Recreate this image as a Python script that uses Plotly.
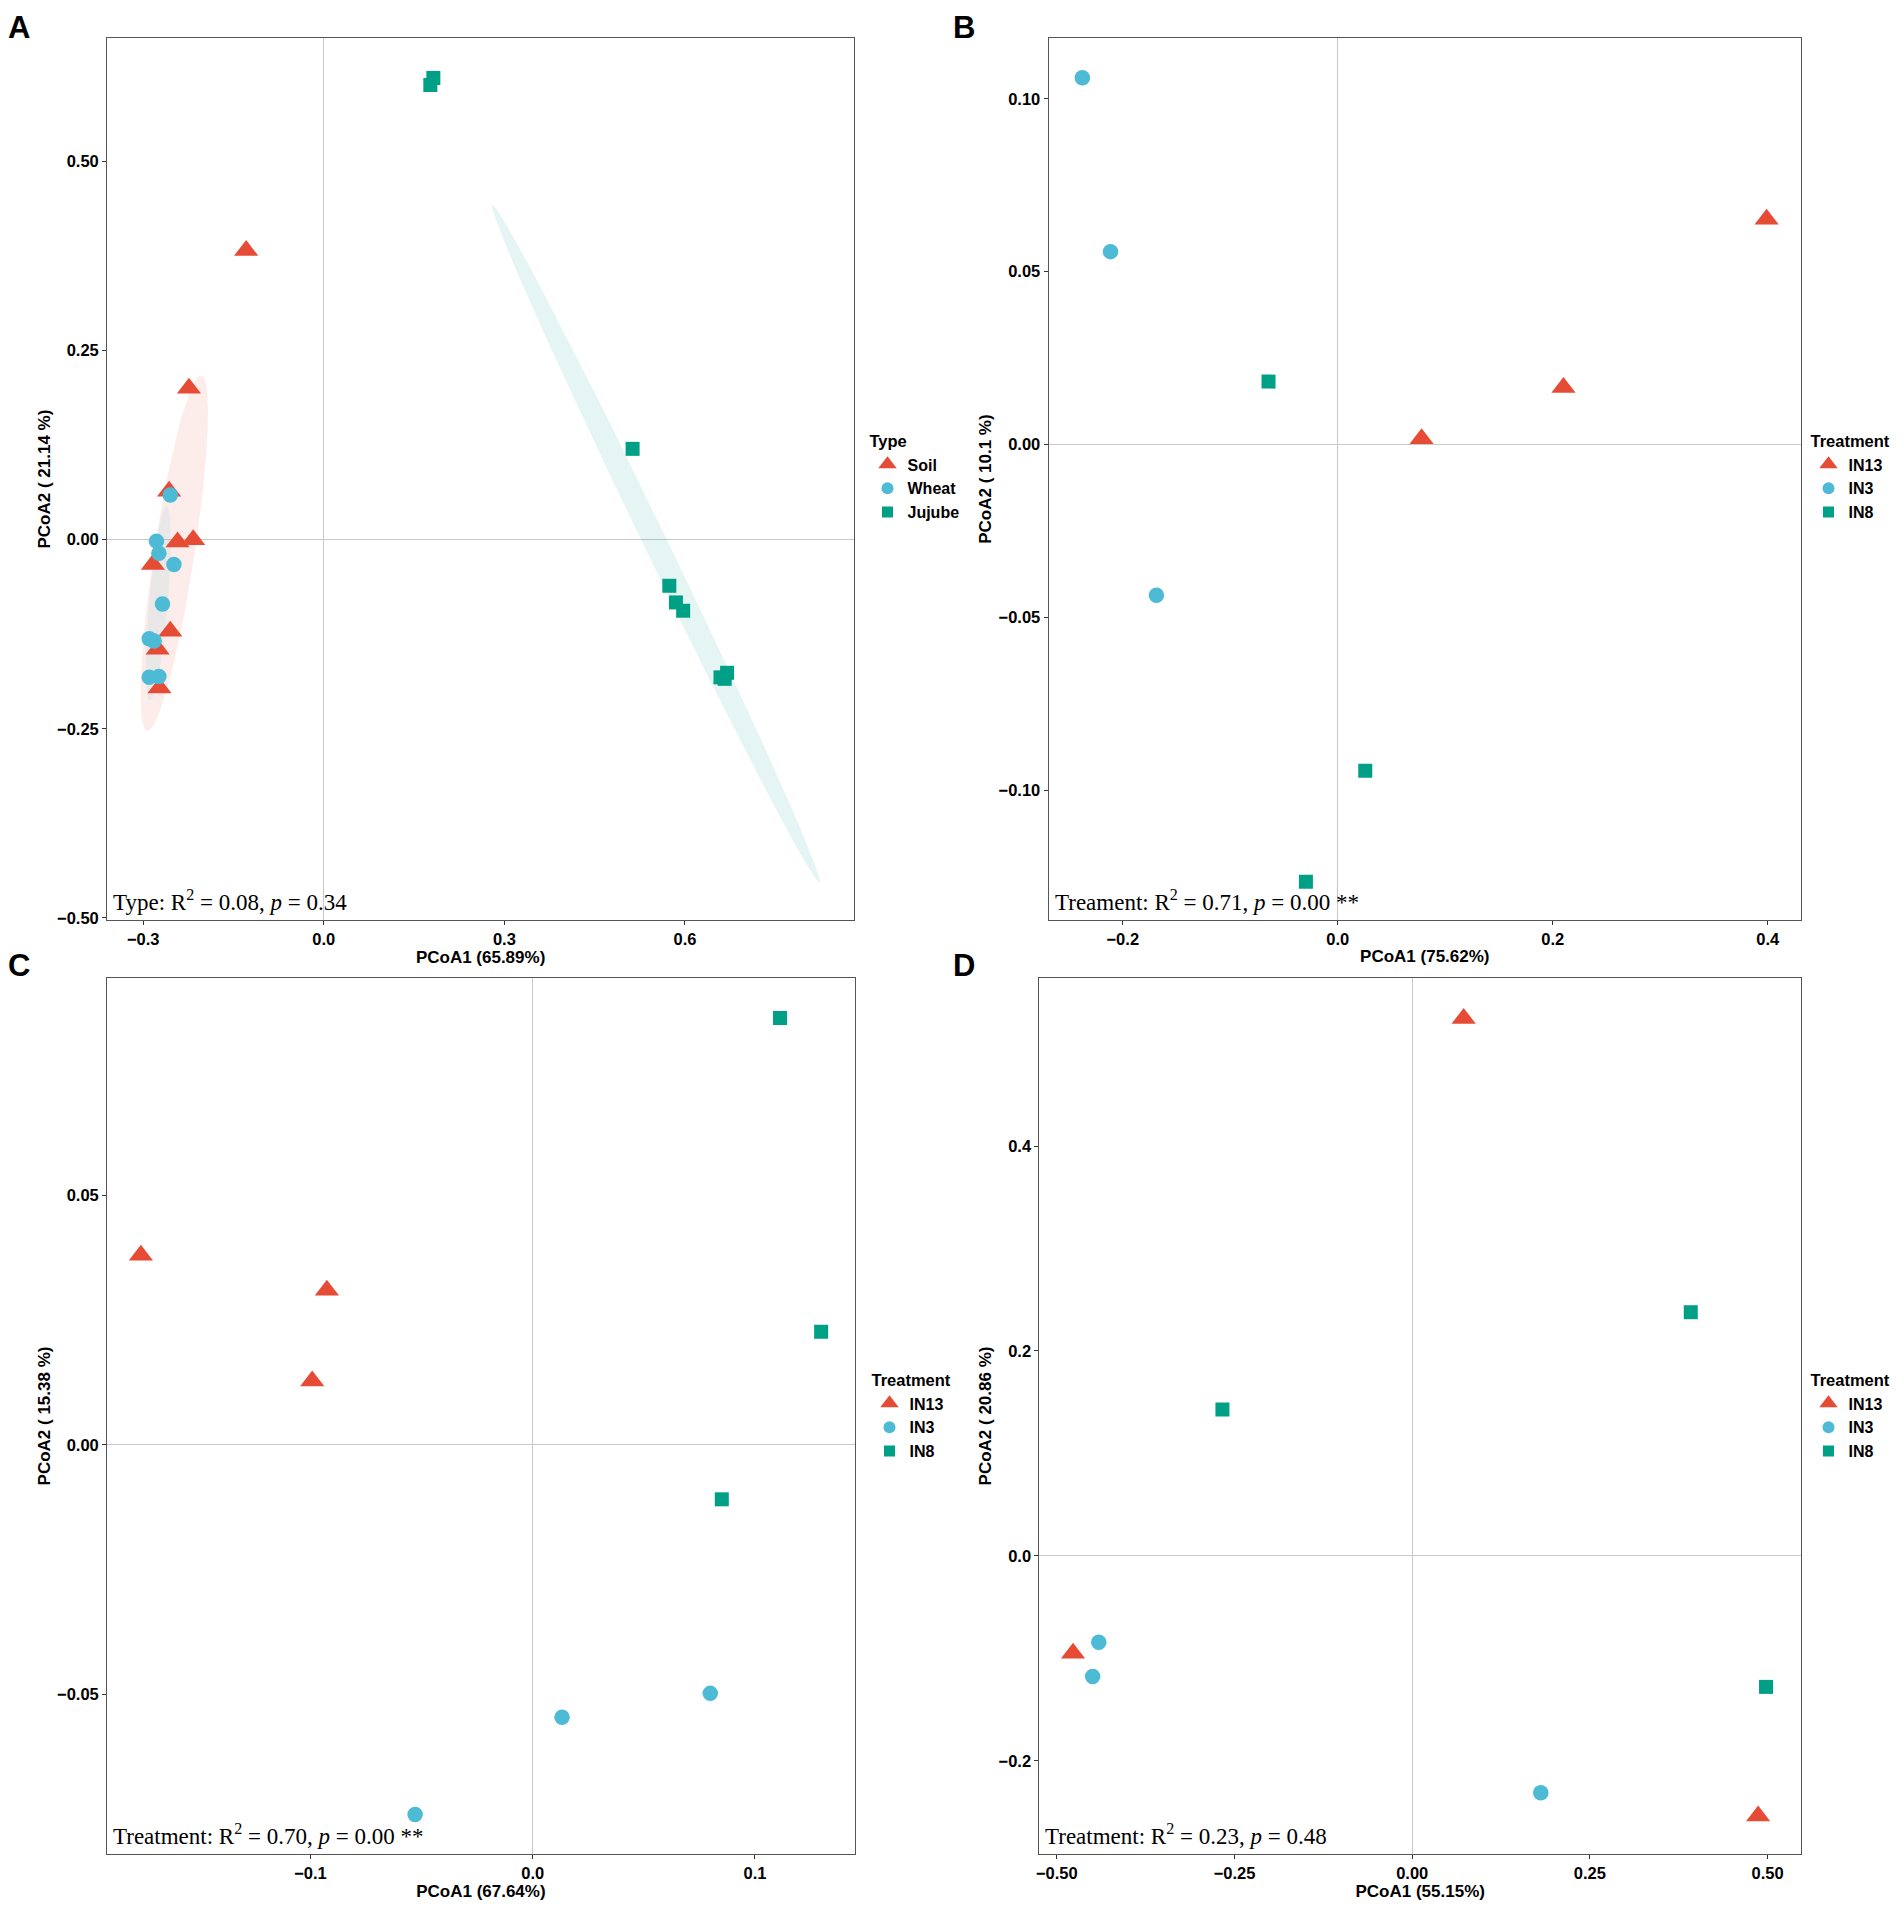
import numpy as np
import plotly.graph_objects as go

# ---------------- data ----------------
# Panel A (Type)
a_soil_x = [-0.129, -0.224, -0.257, -0.243, -0.217, -0.284, -0.255, -0.276, -0.273]
a_soil_y = [0.382, 0.200, 0.064, -0.003, 0.000, -0.033, -0.121, -0.145, -0.196]
a_wheat_x = [-0.255, -0.278, -0.274, -0.249, -0.268, -0.290, -0.282, -0.290, -0.274]
a_wheat_y = [0.059, -0.002, -0.018, -0.033, -0.085, -0.131, -0.134, -0.182, -0.181]
a_jujube_x = [0.182, 0.177, 0.513, 0.574, 0.585, 0.597, 0.659, 0.670, 0.666]
a_jujube_y = [0.610, 0.601, 0.120, -0.061, -0.083, -0.094, -0.182, -0.176, -0.184]

# Panel B (Treatment)
b_in13_x = [0.399, 0.210, 0.078]
b_in13_y = [0.0652, 0.0165, 0.0017]
b_in3_x = [-0.2376, -0.2114, -0.1687]
b_in3_y = [0.1061, 0.0558, -0.0436]
b_in8_x = [-0.0644, 0.0256, -0.0296]
b_in8_y = [0.0182, -0.0944, -0.1265]

# Panel C (Treatment)
c_in13_x = [-0.1763, -0.0926, -0.0992]
c_in13_y = [0.0380, 0.0310, 0.0128]
c_in3_x = [0.0132, 0.0799, -0.0529]
c_in3_y = [-0.0546, -0.0498, -0.0741]
c_in8_x = [0.1113, 0.1298, 0.0851]
c_in8_y = [0.0856, 0.0227, -0.0109]

# Panel D (Treatment)
d_in13_x = [0.0724, -0.4772, 0.4867]
d_in13_y = [0.5245, -0.0950, -0.2540]
d_in3_x = [-0.441, -0.4496, 0.1809]
d_in3_y = [-0.0843, -0.1177, -0.2313]
d_in8_x = [-0.267, 0.3919, 0.4978]
d_in8_y = [0.1428, 0.2378, -0.1279]

type_labels = ["Soil", "Wheat", "Jujube"]
treat_labels = ["IN13", "IN3", "IN8"]
axis_titles = {
    "A": ("PCoA1 (65.89%)", "PCoA2 ( 21.14 %)"),
    "B": ("PCoA1 (75.62%)", "PCoA2 ( 10.1 %)"),
    "C": ("PCoA1 (67.64%)", "PCoA2 ( 15.38 %)"),
    "D": ("PCoA1 (55.15%)", "PCoA2 ( 20.86 %)"),
}
stat_texts = {
    "A": "Type: R<sup>2</sup> = 0.08, <i>p</i> = 0.34",
    "B": "Treament: R<sup>2</sup> = 0.71, <i>p</i> = 0.00 **",
    "C": "Treatment: R<sup>2</sup> = 0.70, <i>p</i> = 0.00 **",
    "D": "Treatment: R<sup>2</sup> = 0.23, <i>p</i> = 0.48",
}

# ---------------- styles ----------------
RED = "#E64B35"
BLUE = "#4DBBD5"
GREEN = "#00A087"
SANS = "Liberation Sans, Arial, sans-serif"
SERIF = "Liberation Serif, Times New Roman, serif"
W, H = 1904, 1908
ELLIPSE_LEVEL = 0.70


def cov_trob(X, nu=5, maxit=25, tol=0.01):
    n, p = X.shape
    wt = np.ones(n)
    loc = X.mean(axis=0)
    w = np.sqrt(wt)
    Xc = X - loc
    for _ in range(maxit):
        w0 = w
        Xc = X - loc
        A = np.sqrt(w / w.sum())[:, None] * Xc
        _, d, Vt = np.linalg.svd(A, full_matrices=False)
        wX = Xc @ Vt.T @ np.diag(1.0 / d)
        Q = (wX ** 2).sum(axis=1)
        w = wt * (nu + p) / (nu + Q)
        loc = (w[:, None] * X).sum(axis=0) / w.sum()
        if np.all(np.abs(w - w0) < tol):
            break
    S = np.sqrt(w)[:, None] * Xc
    cov = S.T @ S / wt.sum()
    return loc, cov


def ellipse(xs, ys, level=ELLIPSE_LEVEL, segments=51):
    X = np.column_stack([xs, ys]).astype(float)
    n = X.shape[0]
    center, shape = cov_trob(X)
    dfd = n - 1
    qf = dfd / 2.0 * ((1 - level) ** (-2.0 / dfd) - 1)
    radius = np.sqrt(2 * qf)
    L = np.linalg.cholesky(shape)
    ang = np.arange(segments + 1) * 2 * np.pi / segments
    circ = np.column_stack([np.cos(ang), np.sin(ang)])
    pts = center + radius * (circ @ L.T)
    return pts[:, 0], pts[:, 1]


fig = go.Figure()

domains = {
    "A": ([107.1 / W, 854.1 / W], [1 - 920.2 / H, 1 - 38 / H]),
    "B": ([1048.6 / W, 1801 / W], [1 - 920.2 / H, 1 - 38 / H]),
    "C": ([107.1 / W, 854.7 / W], [1 - 1854 / H, 1 - 978 / H]),
    "D": ([1039.4 / W, 1801 / W], [1 - 1854 / H, 1 - 978 / H]),
}
ranges = {
    "A": ([-0.360, 0.881], [-0.503, 0.663]),
    "B": ([-0.269, 0.431], [-0.1376, 0.1176]),
    "C": ([-0.1915, 0.1449], [-0.0820, 0.0936]),
    "D": ([-0.5245, 0.547], [-0.291, 0.564]),
}
ticks = {
    "A": (0.3, ".1f", 0.25, ".2f"),
    "B": (0.2, ".1f", 0.05, ".2f"),
    "C": (0.1, ".1f", 0.05, ".2f"),
    "D": (0.25, ".2f", 0.2, ".1f"),
}
legend_pos = {
    "A": (867.5 / W, 1 - 426 / H),
    "B": (1808.5 / W, 1 - 426 / H),
    "C": (869.5 / W, 1 - 1365 / H),
    "D": (1808.5 / W, 1 - 1365 / H),
}
panel_letters = {"A": (6, 8), "B": (951, 8), "C": (6, 946), "D": (951, 946)}

panels = {
    "A": [(a_soil_x, a_soil_y), (a_wheat_x, a_wheat_y), (a_jujube_x, a_jujube_y)],
    "B": [(b_in13_x, b_in13_y), (b_in3_x, b_in3_y), (b_in8_x, b_in8_y)],
    "C": [(c_in13_x, c_in13_y), (c_in3_x, c_in3_y), (c_in8_x, c_in8_y)],
    "D": [(d_in13_x, d_in13_y), (d_in3_x, d_in3_y), (d_in8_x, d_in8_y)],
}
colors = [RED, BLUE, GREEN]
symbols = ["triangle-up", "circle", "square"]
sizes = [21, 15.5, 14]
leg_sizes = [16, 12, 11]
fills = ["rgba(230,75,53,0.10)", "rgba(77,187,213,0.10)", "rgba(0,160,135,0.10)"]

layout_axes = {}
annotations = []
legends = {}
for i, key in enumerate(["A", "B", "C", "D"]):
    sfx = "" if i == 0 else str(i + 1)
    xa, ya = "x" + sfx, "y" + sfx
    leg = "legend" + sfx
    labels = type_labels if key == "A" else treat_labels
    ltitle = "Type" if key == "A" else "Treatment"

    # ellipses (panel A only)
    if key == "A":
        for (xs, ys), fc in zip(panels[key], fills):
            ex, ey = ellipse(xs, ys)
            fig.add_trace(go.Scatter(x=ex, y=ey, mode="lines", fill="toself",
                                     fillcolor=fc, line=dict(width=0),
                                     hoverinfo="skip", showlegend=False,
                                     xaxis=xa, yaxis=ya))
    for j, (xs, ys) in enumerate(panels[key]):
        fig.add_trace(go.Scatter(x=xs, y=ys, mode="markers", showlegend=False,
                                 marker=dict(symbol=symbols[j], size=sizes[j],
                                             color=colors[j], line=dict(width=0)),
                                 xaxis=xa, yaxis=ya, name=labels[j]))
    for j in range(3):
        fig.add_trace(go.Scatter(x=[None], y=[None], mode="markers", name=labels[j],
                                 marker=dict(symbol=symbols[j], size=leg_sizes[j],
                                             color=colors[j], line=dict(width=0)),
                                 xaxis=xa, yaxis=ya, legend=leg, showlegend=True))

    dx, fx, dy, fy = ticks[key]
    xt, yt = axis_titles[key]
    common = dict(showgrid=False, zeroline=True, zerolinecolor="#C8C8C8",
                  zerolinewidth=1, showline=True, mirror=True, linecolor="#555555",
                  linewidth=1, ticks="outside", ticklen=4, tickwidth=1,
                  tickcolor="#333333",
                  tickfont=dict(family=SANS, size=16.5, color="#000000", weight="bold"),
                  automargin=False)
    layout_axes["xaxis" + sfx] = dict(
        common, domain=domains[key][0], range=ranges[key][0], dtick=dx, tick0=0,
        tickformat=fx, anchor=ya,
        title=dict(text=xt, standoff=3,
                   font=dict(family=SANS, size=17, color="#000000", weight="bold")))
    layout_axes["yaxis" + sfx] = dict(
        common, domain=domains[key][1], range=ranges[key][1], dtick=dy, tick0=0,
        tickformat=fy, anchor=xa,
        title=dict(text=yt, standoff=2,
                   font=dict(family=SANS, size=17, color="#000000", weight="bold")))

    annotations.append(dict(text=stat_texts[key], xref=xa + " domain", yref=ya + " domain",
                            x=0, y=0, xanchor="left", yanchor="bottom", xshift=4, yshift=3,
                            showarrow=False,
                            font=dict(family=SERIF, size=23, color="#000000")))
    px, py = panel_letters[key]
    annotations.append(dict(text="<b>%s</b>" % key, xref="paper", yref="paper",
                            x=px / W, y=1 - py / H, xanchor="left", yanchor="top",
                            showarrow=False,
                            font=dict(family=SANS, size=31, color="#000000")))
    lx, ly = legend_pos[key]
    legends[leg] = dict(x=lx, y=ly, xanchor="left", yanchor="top",
                        bgcolor="rgba(0,0,0,0)", borderwidth=0,
                        title=dict(text=ltitle,
                                   font=dict(family=SANS, size=16.5, color="#000000",
                                             weight="bold")),
                        font=dict(family=SANS, size=16, color="#000000", weight="bold"),
                        itemsizing="trace")

fig.update_layout(width=W, height=H, margin=dict(l=0, r=0, t=0, b=0),
                  paper_bgcolor="white", plot_bgcolor="white",
                  template="none", annotations=annotations, **layout_axes, **legends)

fig.write_html("out.html", config={"displayModeBar": False},
               post_script="document.body.style.margin='0px';document.body.style.overflow='hidden';")
